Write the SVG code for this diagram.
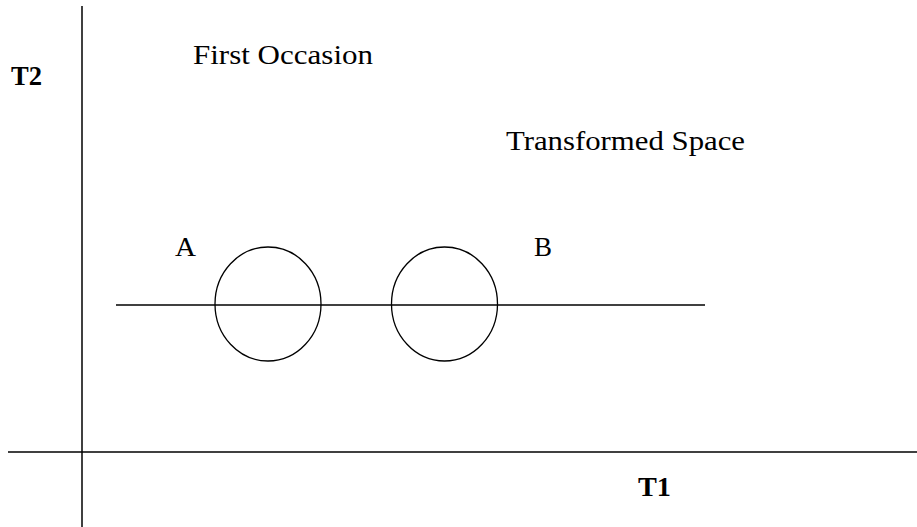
<svg xmlns="http://www.w3.org/2000/svg" width="917" height="527" viewBox="0 0 917 527">
<style>
.ax{stroke:#000;stroke-width:1.5;fill:none}
.ln{stroke:#000;stroke-width:1.5;fill:none}
.c{stroke:#000;stroke-width:1.3;fill:none}
.t{font-family:"Liberation Serif","Times New Roman",serif;font-size:28px;fill:#000}
.b{font-family:"Liberation Serif","Times New Roman",serif;font-size:27px;font-weight:bold;fill:#000}
</style>
<rect width="917" height="527" fill="#fff"/>
<g id="axes">
<line class="ax" x1="82" y1="6" x2="82" y2="527"/>
<line class="ax" x1="8" y1="452" x2="917" y2="452" stroke-width="2"/>
</g>
<g id="labels">
<text class="b" x="11" y="85" textLength="31" lengthAdjust="spacingAndGlyphs">T2</text>
<text class="b" x="638" y="496" textLength="33" lengthAdjust="spacingAndGlyphs">T1</text>
<text class="t" x="193" y="64" textLength="180" lengthAdjust="spacingAndGlyphs">First Occasion</text>
<text class="t" x="506" y="150" textLength="239" lengthAdjust="spacingAndGlyphs">Transformed Space</text>
</g>
<g id="connectors">
<line class="ln" x1="116" y1="305" x2="705" y2="305"/>
</g>
<g id="nodeA">
<text class="t" x="175" y="256" textLength="21" lengthAdjust="spacingAndGlyphs">A</text>
<ellipse class="c" cx="268" cy="304" rx="53" ry="57"/>
</g>
<g id="nodeB">
<text class="t" x="534" y="256" textLength="18" lengthAdjust="spacingAndGlyphs">B</text>
<ellipse class="c" cx="444.5" cy="304" rx="53" ry="57"/>
</g>
</svg>
